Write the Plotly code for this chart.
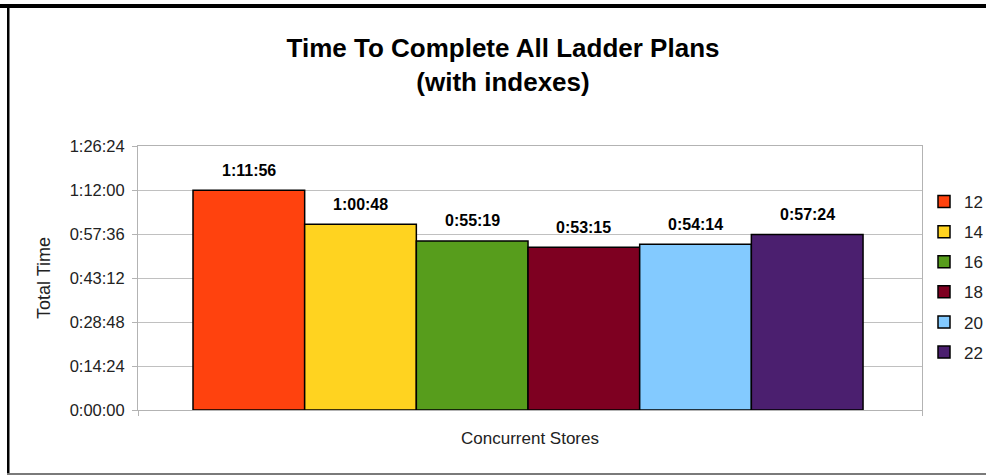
"""Bar chart of the time to complete all ladder plans (with indexes)."""

import plotly.graph_objects as go

STORES = ["12", "14", "16", "18", "20", "22"]
TIMES = ["1:11:56", "1:00:48", "0:55:19", "0:53:15", "0:54:14", "0:57:24"]
COLORS = ["#ff420e", "#ffd320", "#579d1c", "#7e0021", "#83caff", "#4b1f6f"]
Y_TICKS = ["0:00:00", "0:14:24", "0:28:48", "0:43:12", "0:57:36", "1:12:00", "1:26:24"]

FONT = "Liberation Sans, Arial, sans-serif"

# plot area in pixels (986x475 page)
PLOT_LEFT, PLOT_RIGHT, PLOT_TOP, PLOT_BOTTOM = 138, 922, 146, 410


def to_seconds(text: str) -> int:
    """h:mm:ss -> seconds"""
    hours, minutes, seconds = (int(part) for part in text.split(":"))
    return hours * 3600 + minutes * 60 + seconds


def px_x(value: float) -> float:
    """page pixel -> paper x"""
    return (value - PLOT_LEFT) / (PLOT_RIGHT - PLOT_LEFT)


def px_y(value: float) -> float:
    """page pixel -> paper y"""
    return (PLOT_BOTTOM - value) / (PLOT_BOTTOM - PLOT_TOP)


seconds = [to_seconds(t) for t in TIMES]
tick_values = [to_seconds(t) for t in Y_TICKS]

fig = go.Figure()
for index, (store, value, color) in enumerate(zip(STORES, seconds, COLORS)):
    fig.add_trace(
        go.Bar(
            x=[index],
            y=[value],
            width=1,
            name=store,
            legendgroup=store,
            marker={"color": color, "line": {"color": "black", "width": 1.5}},
            hoverinfo="name+y",
        )
    )
    fig.add_annotation(
        x=index,
        y=value,
        text=f"<b>{TIMES[index]}</b>",
        showarrow=False,
        yanchor="middle",
        yshift=20,
        font={"family": FONT, "size": 16, "color": "black"},
    )

# padding on each side of the bar block, in bar widths
left_pad, right_pad = 0.4925, 0.528
x_range = [-0.5 - left_pad, len(STORES) - 0.5 + right_pad]

# frame around the chart
frame = [
    (0, 4, 986, 8, "black"),
    (7, 4, 9.5, 475, "black"),
    (7, 473, 986, 475, "#7a7a7a"),
]
for x0, y0, x1, y1, color in frame:
    fig.add_shape(
        type="rect",
        xref="paper",
        yref="paper",
        x0=px_x(x0),
        x1=px_x(x1),
        y0=px_y(y0),
        y1=px_y(y1),
        fillcolor=color,
        line_width=0,
        layer="above",
    )

fig.update_layout(
    width=986,
    height=475,
    margin={
        "l": PLOT_LEFT,
        "r": 986 - PLOT_RIGHT,
        "t": PLOT_TOP,
        "b": 475 - PLOT_BOTTOM,
        "pad": 0,
        "autoexpand": False,
    },
    paper_bgcolor="white",
    plot_bgcolor="white",
    barmode="overlay",
    font={"family": FONT, "size": 16, "color": "#222222"},
    title={
        "text": "<b>Time To Complete All Ladder Plans<br>(with indexes)</b>",
        "x": 503 / 986,
        "xanchor": "center",
        "y": 1 - 57 / 475,
        "yanchor": "top",
        "font": {"family": FONT, "size": 26, "color": "black"},
    },
    legend={
        "x": px_x(924),
        "xanchor": "left",
        "y": px_y(277),
        "yanchor": "middle",
        "tracegroupgap": 5,
        "font": {"family": FONT, "size": 17, "color": "#222222"},
        "bgcolor": "rgba(0,0,0,0)",
    },
    showlegend=True,
)

fig.update_xaxes(
    range=x_range,
    tickvals=x_range,
    showticklabels=False,
    ticks="outside",
    ticklen=5,
    tickcolor="#b3b3b3",
    showgrid=False,
    zeroline=False,
    showline=True,
    linecolor="#b3b3b3",
    linewidth=1,
    mirror=True,
    title={
        "text": "Concurrent Stores",
        "standoff": 17,
        "font": {"family": FONT, "size": 17, "color": "#222222"},
    },
)
fig.update_yaxes(
    range=[0, tick_values[-1]],
    tickvals=tick_values,
    ticktext=Y_TICKS,
    ticks="outside",
    ticklen=5,
    tickcolor="#b3b3b3",
    ticklabelstandoff=4,
    tickfont={"family": FONT, "size": 16.5, "color": "#222222"},
    showgrid=True,
    gridcolor="#c0c0c0",
    gridwidth=1,
    zeroline=False,
    showline=True,
    linecolor="#b3b3b3",
    linewidth=1,
    mirror=True,
    title={
        "text": "Total Time",
        "standoff": 14,
        "font": {"family": FONT, "size": 18, "color": "#222222"},
    },
)

# page has a default body margin; drop it so the figure sits at the page corner
fig.write_html(
    "out.html",
    config={"displayModeBar": False},
    post_script="document.body.style.margin = '0';",
)
